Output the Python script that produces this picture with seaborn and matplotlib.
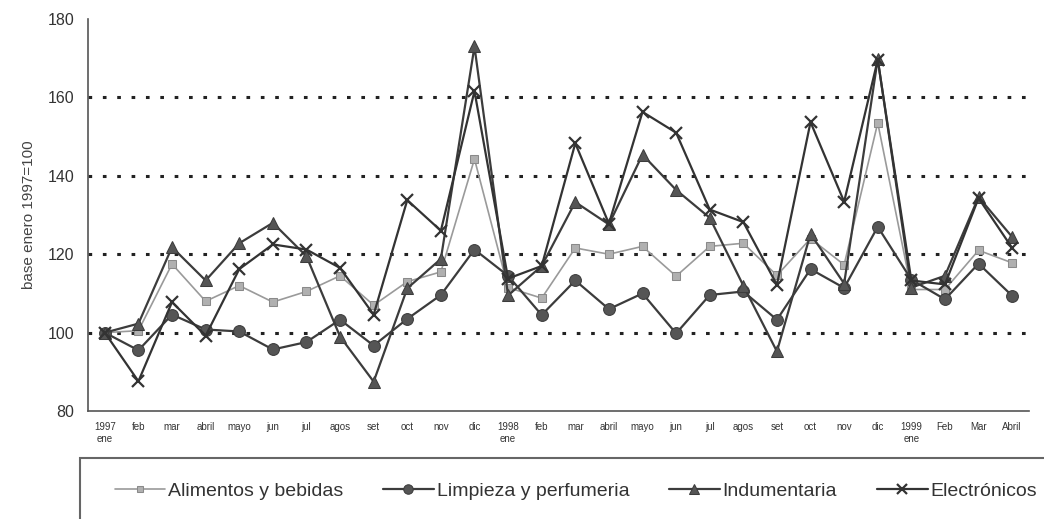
import pandas as pd
import matplotlib.pyplot as plt
from matplotlib.patches import Rectangle
import seaborn as sns

# -----------------------------------------------
# DATA
# -----------------------------------------------
months = ["1997\nene", "feb", "mar", "abril", "mayo", "jun", "jul", "agos", "set",
          "oct", "nov", "dic", "1998\nene", "feb", "mar", "abril", "mayo", "jun",
          "jul", "agos", "set", "oct", "nov", "dic", "1999\nene", "Feb", "Mar", "Abril"]

alimentos = [100, 100.5, 117.5, 108, 112, 107.8, 110.5, 114.5, 107, 113, 115.5, 144.3,
             111.5, 108.8, 121.6, 120, 122, 114.4, 122, 122.8, 114.6, 124, 117.3, 153.5,
             111, 111, 121, 117.8]
limpieza = [100, 95.5, 104.6, 100.8, 100.3, 95.7, 97.6, 103.3, 96.7, 103.5, 109.6, 121.2,
            114.5, 104.5, 113.3, 106, 110, 99.8, 109.6, 110.5, 103.3, 116.2, 111.4, 127,
            113.5, 108.5, 117.6, 109.4]
indumentaria = [100, 102.3, 121.8, 113.3, 122.8, 128, 119.5, 99, 87.5, 111.3, 118.8, 173,
                109.5, 117, 133.3, 127.6, 145.4, 136.4, 129.3, 112, 95.2, 125.2, 112.5, 169.8,
                111.5, 114.5, 134.6, 124.4]
electronicos = [100, 87.6, 107.8, 99.2, 116.2, 122.5, 121.2, 116.5, 104.6, 133.8, 126, 161.6,
                113.8, 117, 148.3, 127.8, 156.3, 151, 131.4, 128.2, 112.2, 153.7, 133.4, 169.6,
                113.3, 112.3, 134.3, 121.6]

series = {
    "Alimentos y bebidas": alimentos,
    "Limpieza y perfumeria": limpieza,
    "Indumentaria": indumentaria,
    "Electrónicos": electronicos,
}

styles = {
    "Alimentos y bebidas": dict(color="#9a9a9a", marker="s", markersize=5.5,
                                markerfacecolor="#b0b0b0", markeredgecolor="#8a8a8a",
                                linewidth=1.2),
    "Limpieza y perfumeria": dict(color="#3c3c3c", marker="o", markersize=8.5,
                                  markerfacecolor="#555555", markeredgecolor="#3c3c3c",
                                  linewidth=1.6),
    "Indumentaria": dict(color="#3c3c3c", marker="^", markersize=9,
                         markerfacecolor="#555555", markeredgecolor="#3c3c3c",
                         linewidth=1.6),
    "Electrónicos": dict(color="#333333", marker="x", markersize=9,
                         markeredgecolor="#333333", markeredgewidth=1.6, linewidth=1.6),
}

# -----------------------------------------------
# SETUP
# -----------------------------------------------
sns.set_theme(style="white")
plt.rcParams["font.family"] = ["Liberation Sans", "DejaVu Sans"]

fig = plt.figure(figsize=(10.44, 5.19), dpi=100)
ax = fig.add_axes([0.0843, 0.208, 0.9013, 0.7554])

x = list(range(len(months)))
for name, vals in series.items():
    df = pd.DataFrame({"x": x, "y": vals})
    sns.lineplot(data=df, x="x", y="y", ax=ax, sort=False, label=name,
                 **styles[name])

# Dotted gridlines
for yv in [100, 120, 140, 160]:
    ax.axhline(yv, color="#222222", linestyle=(0, (1.2, 3.5)), linewidth=2.2, zorder=0)

ax.set_xlim(-0.5, len(months) - 0.5)
ax.set_ylim(80, 180)
ax.set_yticks([80, 100, 120, 140, 160, 180])
ax.set_yticklabels(["80", "100", "120", "140", "160", "180"], fontsize=11.5, color="#333333")

# Category labels centred, tick marks between categories
ax.set_xticks(x)
ax.set_xticklabels(months, fontsize=7, color="#333333", va="top")
ax.tick_params(axis="x", length=0, pad=8)
ax.set_xticks([i - 0.5 for i in range(len(months) + 1)], minor=True)
ax.tick_params(axis="x", which="minor", length=4, width=1, color="#555555", direction="out")
ax.tick_params(axis="y", length=4, width=1, color="#555555", direction="out", pad=6)

ax.set_xlabel("")
ax.set_ylabel("base enero 1997=100", fontsize=11, color="#444444", labelpad=8)

for side in ["top", "right"]:
    ax.spines[side].set_visible(False)
for side in ["left", "bottom"]:
    ax.spines[side].set_color("#555555")
    ax.spines[side].set_linewidth(1.2)

# Legend inside a bordered box below the plot
ax.get_legend().remove()
handles, labels = ax.get_legend_handles_labels()
fig.patches.append(Rectangle((0.0766, -0.05), 1.0, 0.1675, transform=fig.transFigure,
                             fill=False, edgecolor="#666666", linewidth=1.5))
fig.legend(handles, labels, ncol=4, loc="center left", bbox_to_anchor=(0.093, 0.054),
           frameon=False, fontsize=14, handlelength=2.6, handletextpad=0.15,
           columnspacing=2.05, labelcolor="#333333", markerscale=0.8)

plt.savefig("out.png", dpi=100)
plt.close()
